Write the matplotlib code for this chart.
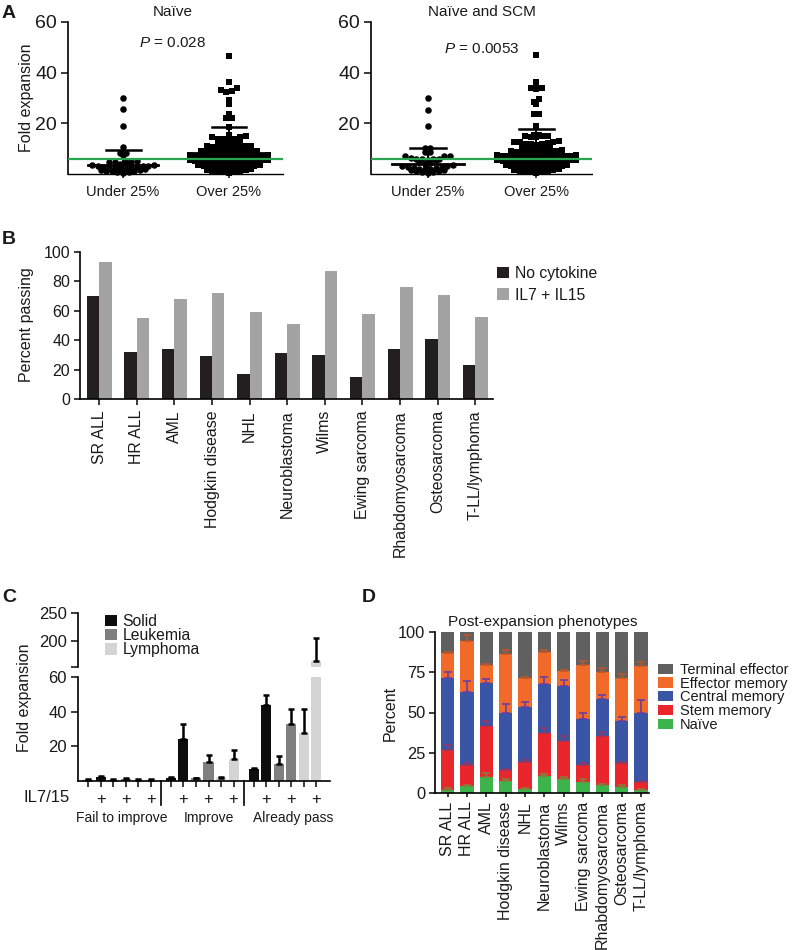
import numpy as np
import matplotlib
matplotlib.use("Agg")
import matplotlib.pyplot as plt
from matplotlib.patches import Patch
import matplotlib.transforms as mtransforms

plt.rcParams['font.family'] = ['Liberation Sans', 'DejaVu Sans']
plt.rcParams['mathtext.fontset'] = 'custom'
plt.rcParams['mathtext.it'] = 'Liberation Sans:italic'
plt.rcParams['mathtext.rm'] = 'Liberation Sans'
plt.rcParams['axes.linewidth'] = 1.2
plt.rcParams['xtick.major.width'] = 1.2
plt.rcParams['ytick.major.width'] = 1.2
plt.rcParams['text.color'] = '#1a1a1a'
plt.rcParams['xtick.color'] = '#1a1a1a'
plt.rcParams['ytick.color'] = '#1a1a1a'

# ---------------- Panel A data ----------------
a_categories = ['Under 25%', 'Over 25%']
naive_under = [30.0, 25.5, 19.0, 10.7, 8.2, 8.2, 7.4,
               5.0, 4.9, 4.9, 4.8, 4.7,
               3.8, 3.6, 3.4, 3.2, 3.1, 3.0, 2.8, 2.6, 2.5, 2.3, 2.2, 2.1, 2.0,
               1.8, 1.6, 1.5, 1.3, 1.2, 1.0, 0.8, 0.6, 0.4]
naive_over = [46.6, 36.2, 33.9, 33.2, 32.7, 32.3, 29.4, 27.6, 23.7, 22.3, 22.1, 18.7,
              15.5, 15.0, 14.7, 14.5,
              14.0, 13.8, 13.8, 13.5, 13.0, 12.8,
              12.3, 12.0, 11.5, 11.1, 11.1, 11.0, 10.8,
              10.5, 10.2, 10.0, 9.8, 9.5, 9.2, 9.0, 9.0, 8.95,
              8.8, 8.5, 8.3, 8.0, 8.0, 7.8, 7.6, 7.5, 7.4, 7.3, 7.2, 7.15,
              7.0, 7.0, 6.8, 6.6, 6.5, 6.3, 6.2, 6.0, 6.0, 5.8, 5.6, 5.5, 5.4,
              5.3, 5.1, 5.0, 5.0, 4.8, 4.6, 4.5, 4.3, 4.1, 4.0, 4.0, 3.8, 3.6,
              3.5, 3.3, 3.1, 3.0, 3.0, 2.8, 2.6, 2.5, 2.3, 2.1, 2.0, 1.8,
              1.6, 1.4, 1.3, 1.1, 1.0, 0.8, 0.6, 0.4]
scm_under = [29.9, 25.3, 19.0, 10.4, 10.4, 8.5, 8.5,
             7.1, 7.0, 7.0, 6.3, 6.0, 6.0, 5.9, 5.8, 5.7, 5.5,
             4.8, 4.2, 3.8,
             3.5, 3.3, 3.0, 2.8, 2.6, 2.4, 2.2, 2.1, 2.0, 1.9,
             1.6, 1.4, 1.2, 1.0, 0.8, 0.6, 0.4]
scm_over = [46.8, 36.5, 34.2, 33.9, 33.9, 33.4, 29.6, 28.5, 27.7, 23.7, 23.5, 19.0,
            15.5, 15.3, 15.1, 15.0, 15.0, 14.8, 14.6,
            13.0, 12.8, 12.6, 12.5,
            12.3, 12.0, 12.0, 11.8, 11.5, 11.2, 10.8,
            10.2, 10.0, 9.8, 9.5, 9.3, 9.0, 8.95,
            8.8, 8.6, 8.4, 8.2, 8.0, 7.8, 7.7, 7.5, 7.4, 7.3, 7.2, 7.15,
            7.0, 6.9, 6.8, 6.6, 6.5, 6.3, 6.2, 6.0, 5.9, 5.8, 5.6, 5.5, 5.4,
            5.3, 5.1, 5.0, 4.9, 4.8, 4.6, 4.5, 4.3, 4.1, 4.0, 3.9, 3.8, 3.6,
            3.5, 3.3, 3.1, 3.0, 2.9, 2.8, 2.6, 2.5, 2.3, 2.1, 2.0, 1.8,
            1.6, 1.4, 1.3, 1.1, 1.0, 0.8, 0.6, 0.4]
naive_mean = [3.6, 8.1]
naive_sd = [5.8, 10.3]
scm_mean = [3.8, 8.0]
scm_sd = [6.5, 9.9]
threshold = 6.1
a_titles = ['Naïve', 'Naïve and SCM']
a_pvalues = ['0.028', '0.0053']

# ---------------- Panel B data ----------------
b_categories = ['SR ALL', 'HR ALL', 'AML', 'Hodgkin disease', 'NHL', 'Neuroblastoma',
                'Wilms', 'Ewing sarcoma', 'Rhabdomyosarcoma', 'Osteosarcoma', 'T-LL/lymphoma']
b_no_cytokine = [70, 32, 34, 29, 17, 31, 30, 15, 34, 41, 23]
b_il7_il15 = [93, 55, 68, 72, 59, 51, 87, 58, 76, 71, 56]
b_series = ['No cytokine', 'IL7 + IL15']

# ---------------- Panel C data ----------------
c_groups = ['Fail to improve', 'Improve', 'Already pass']
c_types = ['Solid', 'Leukemia', 'Lymphoma']
# order within group: Solid -, Solid +, Leukemia -, Leukemia +, Lymphoma -, Lymphoma +
c_fail = [0.6, 2.1, 0.8, 1.3, 0.7, 0.6]
c_fail_err = [0.3, 0.5, 0.3, 0.5, 0.2, 0.3]
c_improve = [1.9, 24.0, 1.5, 11.0, 1.5, 12.9]
c_improve_err = [0.4, 8.7, 0.4, 4.0, 0.7, 5.0]
c_pass = [6.7, 43.8, 9.8, 32.9, 27.5, 163.0]
c_pass_err = [0.7, 5.8, 4.6, 8.6, 14.0, 42.0]
c_il7 = ['', '+', '', '+', '', '+']

# ---------------- Panel D data ----------------
d_categories = b_categories
d_phenotypes = ['Naïve', 'Stem memory', 'Central memory', 'Effector memory', 'Terminal effector']
d_naive = [1.7, 4.4, 9.8, 7.3, 2.7, 10.4, 8.5, 6.7, 4.8, 3.7, 2.1]
d_stem = [25.3, 13.3, 32.0, 6.8, 16.6, 26.8, 23.7, 10.6, 30.8, 15.2, 4.8]
d_central = [44.3, 45.1, 26.6, 35.6, 33.9, 30.8, 34.3, 28.9, 22.8, 26.0, 42.6]
d_effector = [15.6, 31.8, 11.2, 36.8, 18.5, 19.5, 9.4, 33.2, 16.6, 26.4, 29.3]
d_terminal = [13.1, 5.4, 20.4, 13.5, 28.3, 12.5, 24.1, 20.6, 25.0, 28.7, 21.2]
d_naive_err = [1.6, 0.8, 2.9, 1.6, 0.3, 1.2, 1.5, 2.2, 0.5, 1.5, 0.3]
d_stem_err = [3.1, 1.2, 2.9, 0.7, 1.3, 3.3, 2.9, 1.2, 2.0, 0.4, 0.3]
d_central_err = [3.7, 6.8, 2.1, 5.8, 3.1, 4.1, 3.5, 3.7, 2.5, 2.3, 8.5]
d_effector_err = [0.6, 3.3, 0.4, 2.3, 0.3, 1.3, 0.8, 2.5, 2.5, 2.7, 2.7]

# ---------------- layout helpers ----------------
W, H = 800, 950
fig = plt.figure(figsize=(W / 100, H / 100), dpi=100)


def px_axes(x0, y0, x1, y1):
    return fig.add_axes([x0 / W, 1 - y1 / H, (x1 - x0) / W, (y1 - y0) / H])


def ftext(x, y, s, **kw):
    return fig.text(x / W, 1 - y / H, s, **kw)


def row_swarm(vals, ppy, bin_h, spacing):
    """Prism-style scatter: points binned into rows and spread sideways."""
    vals = np.asarray(vals, dtype=float)
    rows = np.floor(vals * ppy / bin_h).astype(int)
    xs = np.zeros(len(vals))
    for r in np.unique(rows):
        idx = np.where(rows == r)[0]
        idx = idx[np.argsort(vals[idx], kind='stable')]
        n = len(idx)
        slots = (np.arange(n) - (n - 1) / 2.0) * spacing
        order = np.argsort(np.abs(slots), kind='stable')
        xs[idx] = slots[order]
    return xs


# ================= Panel A =================
green = '#27a551'
a_axes = [px_axes(68, 22, 283, 174), px_axes(371, 22, 592, 174)]
a_sets = [(naive_under, naive_over, naive_mean, naive_sd),
          (scm_under, scm_over, scm_mean, scm_sd)]
title_pos = [(173, 12, 173, 43), (482, 12, 482, 49)]
for k, ax in enumerate(a_axes):
    under, over, means, sds = a_sets[k]
    ax.set_xlim(-0.52, 1.51)
    ax.set_ylim(0, 60)
    bb = ax.get_window_extent()
    ppy = bb.height / 60.0
    ppx = bb.width / 2.03
    for i, (vals, mk, sz) in enumerate([(under, 'o', 22), (over, 's', 17)]):
        off = row_swarm(vals, ppy, 4.8, 5.6)
        ax.scatter(i + off / ppx, vals, marker=mk, s=sz, color='black',
                   linewidths=0, clip_on=False, zorder=3)
        top = means[i] + sds[i]
        ax.plot([i - 0.33, i + 0.33], [means[i]] * 2, color='black', lw=2, zorder=4)
        ax.plot([i, i], [0, top], color='black', lw=1.5, zorder=4)
        ax.plot([i - 0.165, i + 0.165], [top] * 2, color='black', lw=1.8, zorder=4)
    ax.axhline(threshold, color=green, lw=1.6, zorder=5)
    for s in ['top', 'right']:
        ax.spines[s].set_visible(False)
    ax.spines['bottom'].set_linestyle((0, (1, 1)))
    ax.spines['bottom'].set_linewidth(1.0)
    ax.set_yticks([20, 40, 60])
    ax.set_xticks([0, 1])
    ax.set_xticklabels(a_categories, fontsize=10.5)
    ax.tick_params(axis='y', labelsize=14, length=5, pad=3)
    ax.tick_params(axis='x', length=3, pad=5)
    tx, ty, px_, py_ = title_pos[k]
    ftext(tx, ty, a_titles[k], ha='center', va='center', fontsize=11)
    ftext(px_, py_, '$P$ = ' + a_pvalues[k], ha='center', va='center', fontsize=11)

ftext(27, 98, 'Fold expansion', rotation=90, ha='center', va='center', fontsize=11.5)

# ================= Panel B =================
axB = px_axes(80, 252, 493, 399)
xb = np.arange(len(b_categories))
bw = 0.33
b_black = '#231f20'
b_gray = '#a3a3a3'
axB.bar(xb - bw / 2, b_no_cytokine, width=bw, color=b_black, label=b_series[0])
axB.bar(xb + bw / 2, b_il7_il15, width=bw, color=b_gray, label=b_series[1])
axB.set_xlim(-0.51, 10.47)
axB.set_ylim(0, 100)
axB.set_yticks([0, 20, 40, 60, 80, 100])
axB.set_xticks(xb)
axB.set_xticklabels(b_categories, rotation=90, ha='center', va='top', fontsize=11.4)
axB.tick_params(axis='y', labelsize=11.5, length=4, pad=3)
axB.tick_params(axis='x', length=4, pad=4)
for s in ['top', 'right']:
    axB.spines[s].set_visible(False)
axB.legend(loc='upper left', bbox_to_anchor=(497 / W, 1 - 266 / H),
           bbox_transform=fig.transFigure, frameon=False, fontsize=11.3,
           handlelength=0.75, handleheight=0.75, handletextpad=0.4,
           labelspacing=0.42, borderpad=0, borderaxespad=0)
ftext(26, 325, 'Percent passing', rotation=90, ha='center', va='center', fontsize=11.5)

# ================= Panel C =================
axCu = px_axes(78, 613, 330, 667)
axCl = px_axes(78, 677, 330, 781)
c_vals = c_fail + c_improve + c_pass
c_errs = c_fail_err + c_improve_err + c_pass_err
c_x = [g * 6.6 + i for g in range(3) for i in range(6)]
c_colors_type = ['#0d0d0d', '#7f7f7f', '#d4d4d4']
c_cols = [c_colors_type[(i % 6) // 2] for i in range(18)]
for ax in (axCu, axCl):
    ax.bar(c_x, c_vals, width=0.8, color=c_cols, zorder=2)
    ax.errorbar(c_x, c_vals, yerr=[np.zeros(18), c_errs], fmt='none', ecolor='black',
                elinewidth=1.8, capsize=2.0, capthick=1.8, zorder=3)
    ax.set_xlim(-0.82, 19.3)
    for s in ['top', 'right']:
        ax.spines[s].set_visible(False)
axCu.set_ylim(152, 250)
axCu.set_yticks([152, 200, 250])
axCu.set_yticklabels(['', '200', '250'])
axCu.spines['bottom'].set_visible(False)
axCu.set_xticks([])
axCu.tick_params(axis='y', labelsize=12, length=5, pad=3)
axCl.set_ylim(0, 60)
axCl.set_yticks([20, 40, 60])
axCl.set_xticks(c_x)
axCl.set_xticklabels(c_il7 * 3, fontsize=12)
axCl.tick_params(axis='y', labelsize=12, length=5, pad=3)
axCl.tick_params(axis='x', length=4, pad=4)
trC = mtransforms.blended_transform_factory(axCl.transData, axCl.transAxes)
for xd in [5.8, 12.4]:
    axCl.plot([xd, xd], [0, -0.23], transform=trC, color='black', lw=1.2, clip_on=False)
c_handles = [Patch(facecolor=c, edgecolor='none') for c in c_colors_type]
axCu.legend(c_handles, c_types, loc='upper left', bbox_to_anchor=(105 / W, 1 - 614 / H),
            bbox_transform=fig.transFigure, frameon=False, fontsize=11.3,
            handlelength=0.75, handleheight=0.75, handletextpad=0.35,
            labelspacing=-0.05, borderpad=0, borderaxespad=0)
ftext(70, 797, 'IL7/15', ha='right', va='center', fontsize=12)
for gx, gname in zip([122, 209, 293], c_groups):
    ftext(gx, 818, gname, ha='center', va='center', fontsize=10)
ftext(25, 698, 'Fold expansion', rotation=90, ha='center', va='center', fontsize=11.5)

# ================= Panel D =================
axD = px_axes(435, 632, 649, 793)
xd = np.arange(len(d_categories))
d_colors = ['#3cb44b', '#e8262b', '#3a55a5', '#f26a2a', '#606060']
d_err_colors = ['#8b7a3a', '#8a3a6a', '#6a3fa0', '#b9562e', '#606060']
segs = [d_naive, d_stem, d_central, d_effector, d_terminal]
errs = [d_naive_err, d_stem_err, d_central_err, d_effector_err, None]
bottom = np.zeros(len(d_categories))
for seg, col, lab in zip(segs, d_colors, d_phenotypes):
    axD.bar(xd, seg, width=0.68, bottom=bottom, color=col, label=lab, zorder=2)
    bottom = bottom + np.asarray(seg)
bottom = np.zeros(len(d_categories))
for seg, err, ecol in zip(segs, errs, d_err_colors):
    top = bottom + np.asarray(seg)
    if err is not None:
        axD.errorbar(xd, top, yerr=[np.zeros(len(xd)), err], fmt='none', ecolor=ecol,
                     elinewidth=1.2, capsize=3.0, capthick=1.2, zorder=3)
    bottom = top
axD.set_xlim(-0.65, 10.41)
axD.set_ylim(0, 100)
axD.set_yticks([0, 25, 50, 75, 100])
axD.set_xticks(xd)
axD.set_xticklabels(d_categories, rotation=90, ha='center', va='top', fontsize=11.5)
axD.tick_params(axis='y', labelsize=11.8, length=4, pad=3)
axD.tick_params(axis='x', length=3, pad=3)
for s in ['top', 'right']:
    axD.spines[s].set_visible(False)
h, l = axD.get_legend_handles_labels()
axD.legend(h[::-1], l[::-1], loc='upper left', bbox_to_anchor=(658 / W, 1 - 663 / H),
           bbox_transform=fig.transFigure, frameon=False, fontsize=10.5,
           handlelength=1.05, handleheight=0.7, handletextpad=0.45,
           labelspacing=-0.02, borderpad=0, borderaxespad=0)
ftext(543, 622, 'Post-expansion phenotypes', ha='center', va='center', fontsize=11.1)
ftext(390, 713, 'Percent', rotation=90, ha='center', va='center', fontsize=11.5)

# ================= panel letters =================
for (lx, ly, letter) in [(9, 13, 'A'), (9, 239, 'B'), (9, 598, 'C'), (369, 598, 'D')]:
    ftext(lx, ly, letter, ha='center', va='center', fontsize=14, fontweight='bold')

fig.savefig('out.png', dpi=100)
